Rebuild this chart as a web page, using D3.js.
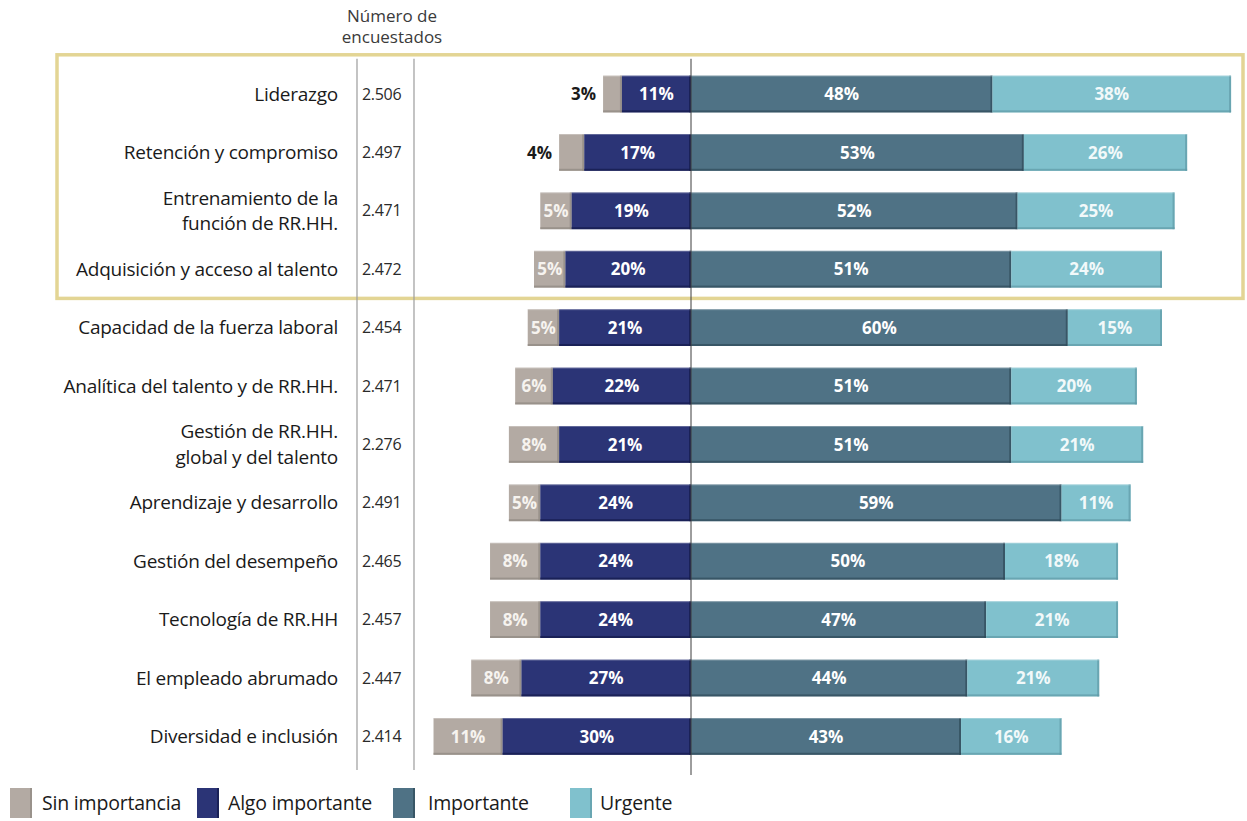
<!DOCTYPE html>
<html lang="es">
<head>
<meta charset="utf-8">
<script src="https://cdn.jsdelivr.net/npm/d3@7"></script>
<style>
  html, body { margin: 0; padding: 0; background: #ffffff; }
  svg { display: block; font-family: "Open Sans", "Noto Sans", sans-serif; }
</style>
</head>
<body>
<svg id="chart" width="1247" height="821"></svg>
<script>
// Prioridades de capital humano: distribución de respuestas por tema
const categories = [
  "Liderazgo",
  "Retención y compromiso",
  "Entrenamiento de la\nfunción de RR.HH.",
  "Adquisición y acceso al talento",
  "Capacidad de la fuerza laboral",
  "Analítica del talento y de RR.HH.",
  "Gestión de RR.HH.\nglobal y del talento",
  "Aprendizaje y desarrollo",
  "Gestión del desempeño",
  "Tecnología de RR.HH",
  "El empleado abrumado",
  "Diversidad e inclusión"
];
const respondents = ["2.506", "2.497", "2.471", "2.472", "2.454", "2.471", "2.276", "2.491", "2.465", "2.457", "2.447", "2.414"];

const sinImportancia  = [3, 4, 5, 5, 5, 6, 8, 5, 8, 8, 8, 11];
const algoImportante  = [11, 17, 19, 20, 21, 22, 21, 24, 24, 24, 27, 30];
const importante      = [48, 53, 52, 51, 60, 51, 51, 59, 50, 47, 44, 43];
const urgente         = [38, 26, 25, 24, 15, 20, 21, 11, 18, 21, 21, 16];

const seriesNames = ["Sin importancia", "Algo importante", "Importante", "Urgente"];
const highlightedCount = 4;

const colors = {
  "Sin importancia": "#b3aaa3",
  "Algo importante": "#2b3476",
  "Importante": "#4f7285",
  "Urgente": "#80c1cd"
};
const edgeColors = {
  "Sin importancia": "#8f8780",
  "Algo importante": "#141a4a",
  "Importante": "#2f4a59",
  "Urgente": "#5f9aa6"
};
const labelColors = {
  "Sin importancia": "#f6f3ef",
  "Algo importante": "#ffffff",
  "Importante": "#ffffff",
  "Urgente": "#f2f9fa"
};

const svg = d3.select("#chart");

// Diverging axis: negative side for the "less important" answers
const x = d3.scaleLinear().domain([-40, 90]).range([691 - 40 * 6.28, 691 + 90 * 6.28]);
const y = d3.scaleBand()
  .domain(d3.range(categories.length))
  .range([64.8, 765.6])
  .paddingInner(0.37)
  .paddingOuter(0.185);

const rows = categories.map((c, i) => {
  const s = sinImportancia[i], a = algoImportante[i], im = importante[i], u = urgente[i];
  return {
    i,
    segments: [
      { key: "Sin importancia", x0: -(a + s), x1: -a, v: s },
      { key: "Algo importante", x0: -a, x1: 0, v: a },
      { key: "Importante", x0: 0, x1: im, v: im },
      { key: "Urgente", x0: im, x1: im + u, v: u }
    ]
  };
});

// Highlight frame around the top priorities
const step = y.step();
const boxTop = y(0) - (step - y.bandwidth()) / 2 - 10;
const boxBottom = y(highlightedCount - 1) + y.bandwidth() + (step - y.bandwidth()) / 2;
svg.append("rect")
  .attr("x", 57).attr("y", boxTop)
  .attr("width", 1243 - 57).attr("height", boxBottom - boxTop)
  .attr("fill", "none")
  .attr("stroke", "#e3d594")
  .attr("stroke-width", 3.5);

// Column separators
const lineTop = boxTop + 4;
const lineBottom = 770;
[357, 414].forEach(lx => {
  svg.append("line")
    .attr("x1", lx).attr("x2", lx)
    .attr("y1", lineTop).attr("y2", lineBottom)
    .attr("stroke", "#9c9c9c").attr("stroke-width", 1.2);
});

// Column header
svg.append("text")
  .attr("x", 392).attr("y", 22)
  .attr("text-anchor", "middle")
  .attr("font-size", 17).attr("fill", "#3a3a3a")
  .selectAll("tspan")
  .data(["Número de", "encuestados"])
  .join("tspan")
  .attr("x", 392)
  .attr("dy", (d, k) => k === 0 ? 0 : 21)
  .text(d => d);

// Category labels
const rowG = svg.append("g");
rows.forEach(r => {
  const cy = y(r.i) + y.bandwidth() / 2;
  const lines = categories[r.i].split("\n");
  lines.forEach((ln, k) => {
    rowG.append("text")
      .attr("text-anchor", "end")
      .attr("font-size", 19)
      .attr("letter-spacing", "-0.25")
      .attr("fill", "#1a1a1a")
      .attr("x", 338)
      .attr("y", cy + (k - (lines.length - 1) / 2) * 25.5)
      .attr("dy", "0.35em")
      .text(ln);
  });
  rowG.append("text")
    .attr("x", 362).attr("y", cy)
    .attr("dy", "0.35em")
    .attr("font-size", 16)
    .attr("letter-spacing", "-0.3")
    .attr("fill", "#2a2a2a")
    .text(respondents[r.i]);
});

// Bars
const barG = svg.append("g");
rows.forEach(r => {
  const by = y(r.i), bh = y.bandwidth();
  r.segments.forEach(sg => {
    const sx = x(sg.x0), sw = x(sg.x1) - x(sg.x0);
    barG.append("rect")
      .attr("x", sx).attr("y", by)
      .attr("width", sw).attr("height", bh)
      .attr("fill", colors[sg.key]);
    // subtle shaded edges
    barG.append("rect")
      .attr("x", sx).attr("y", by + bh - 2)
      .attr("width", sw).attr("height", 2)
      .attr("fill", edgeColors[sg.key]).attr("opacity", 0.7);
    barG.append("rect")
      .attr("x", sx + sw - 2).attr("y", by)
      .attr("width", 2).attr("height", bh)
      .attr("fill", edgeColors[sg.key]).attr("opacity", 0.7);
    barG.append("rect")
      .attr("x", sx).attr("y", by)
      .attr("width", sw).attr("height", 1)
      .attr("fill", "#ffffff").attr("opacity", 0.25);
  });
});

// Center reference line
svg.append("line")
  .attr("x1", x(0)).attr("x2", x(0))
  .attr("y1", lineTop).attr("y2", 775)
  .attr("stroke", "#3c3c3c").attr("stroke-width", 1);

// Value labels
const labelG = svg.append("g")
  .attr("font-size", 17)
  .attr("font-weight", "bold");
rows.forEach(r => {
  const cy = y(r.i) + y.bandwidth() / 2;
  r.segments.forEach(sg => {
    const small = sg.key === "Sin importancia" && sg.v < 5;
    labelG.append("text")
      .attr("x", small ? x(sg.x0) - 7 : (x(sg.x0) + x(sg.x1)) / 2)
      .attr("y", cy)
      .attr("dy", "0.36em")
      .attr("text-anchor", small ? "end" : "middle")
      .attr("fill", small ? "#1a1a1a" : labelColors[sg.key])
      .text(sg.v + "%");
  });
});

// Legend
const legendPos = [
  { sx: 10, tx: 42 },
  { sx: 197, tx: 228 },
  { sx: 393, tx: 428 },
  { sx: 570, tx: 600 }
];
const legend = svg.append("g");
seriesNames.forEach((name, k) => {
  legend.append("rect")
    .attr("x", legendPos[k].sx).attr("y", 788)
    .attr("width", 22).attr("height", 30)
    .attr("fill", colors[name]);
  legend.append("rect")
    .attr("x", legendPos[k].sx + 20).attr("y", 788)
    .attr("width", 2).attr("height", 30)
    .attr("fill", edgeColors[name]).attr("opacity", 0.7);
  legend.append("text")
    .attr("x", legendPos[k].tx).attr("y", 803)
    .attr("dy", "0.35em")
    .attr("font-size", 19.5)
    .attr("letter-spacing", "-0.2")
    .attr("fill", "#1a1a1a")
    .text(name);
});
</script>
</body>
</html>
